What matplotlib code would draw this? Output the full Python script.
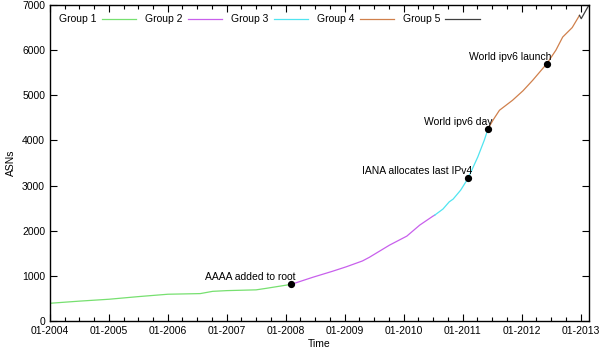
import pandas as pd
import matplotlib
matplotlib.use('Agg')
import matplotlib.pyplot as plt
import matplotlib.dates as mdates

plt.rcParams['font.family'] = ['Liberation Sans', 'DejaVu Sans']
plt.rcParams['font.size'] = 7.5

# ASN counts per period
g1_dates = ['2004-01-01', '2004-07-01', '2005-01-01', '2005-07-01', '2006-01-01',
            '2006-07-20', '2006-10-05', '2007-01-01', '2007-07-01', '2007-09-01', '2008-02-04']
g1_vals = [393, 440, 482, 540, 593, 607, 657, 673, 690, 723, 812]

g2_dates = ['2008-02-04', '2008-06-15', '2008-10-15', '2009-01-10', '2009-04-20', '2009-06-01',
            '2009-08-10', '2009-10-05', '2010-01-20', '2010-04-10', '2010-07-01', '2010-07-12']
g2_vals = [812, 967, 1100, 1201, 1330, 1409, 1560, 1681, 1880, 2124, 2323, 2345]

g3_dates = ['2010-07-12', '2010-09-01', '2010-10-10', '2010-11-03', '2010-12-20', '2011-02-03',
            '2011-04-05', '2011-05-15', '2011-06-08']
g3_vals = [2345, 2480, 2640, 2700, 2900, 3157, 3635, 4004, 4263]

g4_dates = ['2011-06-08', '2011-07-10', '2011-08-17', '2011-11-06', '2012-01-10', '2012-03-10',
            '2012-06-06', '2012-08-01', '2012-09-12', '2012-11-10', '2012-12-25']
g4_vals = [4263, 4460, 4668, 4889, 5100, 5332, 5701, 6000, 6290, 6500, 6770]

g5_dates = ['2012-12-25', '2013-01-05', '2013-02-20']
g5_vals = [6770, 6697, 6990]

groups = ['Group 1', 'Group 2', 'Group 3', 'Group 4', 'Group 5']
colors = ['#77e070', '#c860ec', '#50e4f0', '#d0804c', '#404040']

events = ['AAAA added to root', 'IANA allocates last IPv4', 'World ipv6 day', 'World ipv6 launch']
event_dates = ['2008-02-04', '2011-02-03', '2011-06-08', '2012-06-06']
event_vals = [812, 3157, 4263, 5701]

fig = plt.figure(figsize=(6, 3.54), dpi=100)
ax = fig.add_axes([50 / 600, 1 - 321 / 354, 539 / 600, 316 / 354])

series = [(g1_dates, g1_vals), (g2_dates, g2_vals), (g3_dates, g3_vals),
          (g4_dates, g4_vals), (g5_dates, g5_vals)]
for (d, v), name, c in zip(series, groups, colors):
    ax.plot(pd.to_datetime(d), v, color=c, lw=0.9, label=name)

ed = pd.to_datetime(event_dates)
ax.plot(ed, event_vals, 'o', color='black', ms=4.2, zorder=5)
for txt, x, y in zip(events, ed, event_vals):
    ax.annotate(txt, (x, y), xytext=(4, 7), textcoords='offset pixels',
                ha='right', va='center')

ax.set_xlim(pd.Timestamp('2004-01-01'), pd.Timestamp('2013-02-22'))
ax.set_ylim(0, 7000)
ax.set_yticks(range(0, 7001, 1000))
ax.xaxis.set_major_locator(mdates.YearLocator())
ax.xaxis.set_minor_locator(mdates.MonthLocator(bymonth=[4, 7, 10]))
ax.xaxis.set_major_formatter(mdates.DateFormatter('%m-%Y'))
ax.tick_params(which='both', direction='in', top=True, right=True, width=0.8)
ax.tick_params(which='major', length=5)
ax.tick_params(which='minor', length=3)
for s in ax.spines.values():
    s.set_linewidth(1.0)

ax.set_xlabel('Time', labelpad=2)
ax.set_ylabel('ASNs', labelpad=4)

ax.legend(loc='upper left', ncol=5, frameon=False, markerfirst=False,
          handlelength=3.3, columnspacing=0.85, handletextpad=0.5,
          bbox_to_anchor=(0.0, 1.0))

fig.savefig('out.png', dpi=100)
